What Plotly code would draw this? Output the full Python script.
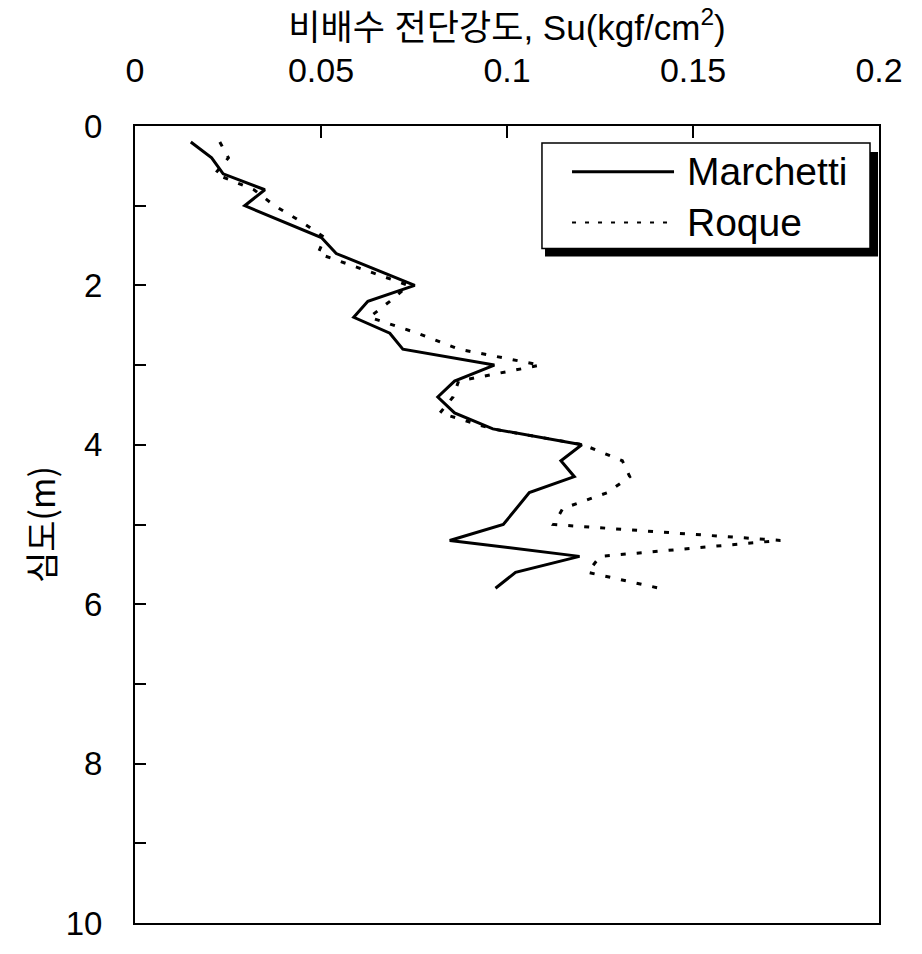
import plotly.graph_objects as go

# Undrained shear strength profiles from DMT interpretation
marchetti_depth = [0.2, 0.4, 0.6, 0.8, 1.0, 1.4, 1.6, 2.0, 2.2, 2.4, 2.6, 2.8, 3.0,
                   3.2, 3.4, 3.6, 3.8, 4.0, 4.2, 4.4, 4.6, 5.0, 5.2, 5.4, 5.6, 5.8]
marchetti_su = [0.0150, 0.0206, 0.0237, 0.0349, 0.0295, 0.0501, 0.0541, 0.0752, 0.0626,
                0.0588, 0.0685, 0.0720, 0.0966, 0.0859, 0.0814, 0.0859, 0.0962, 0.1201,
                0.1145, 0.1181, 0.1060, 0.0990, 0.0846, 0.1195, 0.1023, 0.0969]

roque_depth = [0.2, 0.4, 0.6, 0.8, 1.0, 1.2, 1.4, 1.6, 2.0, 2.2, 2.4, 2.6, 2.8, 3.0,
               3.2, 3.4, 3.6, 3.8, 4.0, 4.2, 4.4, 4.6, 4.8, 5.0, 5.2, 5.4, 5.6, 5.8]
roque_su = [0.0228, 0.0251, 0.0215, 0.0320, 0.0375, 0.0447, 0.0510, 0.0492, 0.0735,
            0.0685, 0.0630, 0.0760, 0.0870, 0.1090, 0.0870, 0.0855, 0.0820, 0.0960,
            0.1205, 0.1310, 0.1330, 0.1270, 0.1150, 0.1125, 0.1735, 0.1250, 0.1217,
            0.1410]

x_ticks = [0, 0.05, 0.1, 0.15, 0.2]
x_tick_text = ["0", "0.05", "0.1", "0.15", "0.2"]
y_ticks = [0, 2, 4, 6, 8, 10]
y_tick_text = ["0", "2", "4", "6", "8", "10"]

series_names = ["Marchetti", "Roque"]

FONT = "Liberation Sans, Arial, Noto Sans CJK KR, sans-serif"
KFONT = "Noto Sans CJK KR, Liberation Sans, sans-serif"

fig = go.Figure()
fig.add_trace(go.Scatter(x=marchetti_su, y=marchetti_depth, mode="lines",
                         name=series_names[0],
                         line=dict(color="black", width=3)))
fig.add_trace(go.Scatter(x=roque_su, y=roque_depth, mode="lines",
                         name=series_names[1],
                         line=dict(color="black", width=3, dash="5px,11px")))

fig.update_layout(
    width=922, height=954,
    margin=dict(l=135, r=43, t=126, b=28),
    paper_bgcolor="white", plot_bgcolor="white",
    showlegend=False,
    font=dict(family=FONT, color="black"),
)

fig.update_xaxes(
    side="top", range=[0, 0.2],
    tickvals=x_ticks, ticktext=x_tick_text,
    ticks="inside", ticklen=12, tickwidth=2, tickcolor="black",
    tickfont=dict(size=34, family=FONT, color="black"),
    ticklabelstandoff=28,
    showline=True, linewidth=2, linecolor="black", mirror=True,
    showgrid=False, zeroline=False,
    title=dict(text="비배수 전단강도, Su(kgf/cm<sup>2</sup>)",
               font=dict(size=35, family=FONT, color="black"), standoff=0),
)

fig.update_yaxes(
    range=[10, 0],
    tickvals=y_ticks, ticktext=y_tick_text,
    ticks="inside", ticklen=11, tickwidth=2, tickcolor="black",
    minor=dict(ticks="inside", ticklen=11, tickwidth=2, tickcolor="black",
               dtick=1, tick0=0),
    tickfont=dict(size=33, family=FONT, color="black"),
    ticklabelstandoff=24,
    showline=True, linewidth=2, linecolor="black", mirror=True,
    showgrid=False, zeroline=False,
    title=dict(text="심도(m)", font=dict(size=34, family=KFONT, color="black"),
               standoff=0),
)

# Legend box with drop shadow, drawn in paper coordinates
fig.add_shape(type="rect", xref="paper", yref="paper",
              x0=0.5511, x1=0.9987, y0=0.8363, y1=0.9675,
              fillcolor="black", line=dict(width=0))
fig.add_shape(type="rect", xref="paper", yref="paper",
              x0=0.5470, x1=0.9879, y0=0.8463, y1=0.9788,
              fillcolor="white", line=dict(color="black", width=1.5))
fig.add_shape(type="line", xref="paper", yref="paper",
              x0=0.5874, x1=0.7245, y0=0.9425, y1=0.9425,
              line=dict(color="black", width=3))
fig.add_shape(type="line", xref="paper", yref="paper",
              x0=0.5874, x1=0.7245, y0=0.8788, y1=0.8788,
              line=dict(color="black", width=2, dash="4px,9px"))
for name, ypos in zip(series_names, [0.9425, 0.8788]):
    fig.add_annotation(xref="paper", yref="paper", x=0.7392, y=ypos,
                       xanchor="left", yanchor="middle", showarrow=False,
                       text=name, font=dict(size=39, family=FONT, color="black"))

fig.write_html("out.html")
